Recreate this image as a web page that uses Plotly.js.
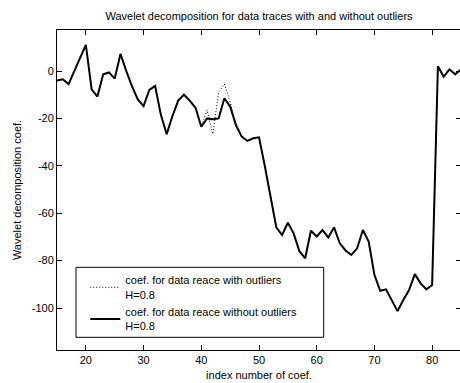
<!DOCTYPE html>
<html>
<head>
<meta charset="utf-8">
<script src="https://cdn.plot.ly/plotly-3.0.1.min.js"></script>
<style>
html, body { margin: 0; padding: 0; overflow: hidden; background: #fff; }
#chart { width: 461px; height: 383px; }
</style>
</head>
<body>
<div id="chart"></div>
<script>
// index of coefficients
const coefIndex = [15,16,17,18,19,20,21,22,23,24,25,26,27,28,29,30,31,32,33,34,35,36,37,38,39,40,
  41,42,43,44,45,46,47,48,49,50,51,52,53,54,55,56,57,58,59,60,61,62,63,64,65,66,67,68,69,70,
  71,72,73,74,75,76,77,78,79,80,81,82,83,84,85];

// coefficients for data trace without outliers
const coefWithout = [-4,-3.5,-5.5,0,5.5,11,-7.7,-10.8,-1.4,-0.6,-3.2,7.2,0,-6.5,-12,-14.8,-8,-6.3,-18.5,-26.7,
  -19,-12.5,-10,-12.5,-15.5,-23.5,-20,-20.4,-20,-11.5,-15,-22.8,-27.7,-29.5,-28.4,-28,-40,-53,-66,-69.2,
  -64,-68.5,-76,-79,-67.4,-69.8,-67.1,-70.2,-66,-72.7,-75.7,-77.6,-74.8,-67.1,-72,-86,
  -92.7,-92.1,-96.6,-101.3,-96.6,-92.4,-85.7,-89.6,-92.1,-90.3,2,-2.4,0.7,-1.4,0.7];

// coefficients for data trace with outliers
const coefWith = [-4,-3.5,-5.5,0,5.5,11,-7.7,-10.8,-1.4,-0.6,-3.2,7.2,0,-6.5,-12,-14.8,-8,-6.3,-18.5,-26.7,
  -19,-12.5,-10,-12.5,-15.5,-23.5,-16.5,-26.6,-9,-5.5,-13,-22.8,-27.7,-29.5,-28.4,-28,-40,-53,-66,-69.2,
  -64,-68.5,-76,-79,-67.4,-69.8,-67.1,-70.2,-66,-72.7,-75.7,-77.6,-74.8,-67.1,-72,-86,
  -92.7,-92.1,-96.6,-101.3,-96.6,-92.4,-85.7,-89.6,-92.1,-90.3,2,-2.4,0.7,-1.4,0.7];

const xTicks = [20,30,40,50,60,70,80];
const yTicks = [-100,-80,-60,-40,-20,0];
const seriesNames = ['coef. for data reace with outliers<br>H=0.8', 'coef. for data reace without outliers<br>H=0.8'];

const FONT = 'Arial, "Liberation Sans", sans-serif';

const traces = [
  {
    x: coefIndex, y: coefWith, type: 'scatter', mode: 'lines', name: seriesNames[0],
    line: {color: '#000', width: 1, dash: '1px,2px'}
  },
  {
    x: coefIndex, y: coefWithout, type: 'scatter', mode: 'lines', name: seriesNames[1],
    line: {color: '#000', width: 2}
  }
];

const axisCommon = {
  showline: true, linecolor: '#000', linewidth: 1, mirror: 'ticks',
  ticks: 'inside', ticklen: 5, tickcolor: '#000', tickwidth: 1,
  showgrid: false, zeroline: false,
  tickfont: {family: FONT, size: 11, color: '#000'}
};

const layout = {
  width: 461, height: 383,
  margin: {l: 57, r: 0, t: 30, b: 33},
  paper_bgcolor: '#fff', plot_bgcolor: '#fff',
  font: {family: FONT, size: 11, color: '#000'},
  title: {text: 'Wavelet decomposition for data traces with and without outliers',
    font: {family: FONT, size: 11, color: '#000'},
    x: 0.5, xref: 'paper', xanchor: 'center', y: 1 - 16/383, yref: 'container', yanchor: 'middle'},
  xaxis: Object.assign({}, axisCommon, {
    range: [15, 85], tickvals: xTicks, ticktext: xTicks.map(String),
    title: {text: 'index number of coef.', font: {family: FONT, size: 11, color: '#000'}, standoff: 6}
  }),
  yaxis: Object.assign({}, axisCommon, {
    range: [-117.7, 17.3], tickvals: yTicks, ticktext: yTicks.map(String),
    title: {text: 'Wavelet decomposition coef.', font: {family: FONT, size: 11, color: '#000'}, standoff: 7}
  }),
  showlegend: true,
  legend: {
    x: 0.07, y: 0.261, xanchor: 'left', yanchor: 'top',
    bgcolor: 'rgba(0,0,0,0)', borderwidth: 0,
    font: {family: FONT, size: 11, color: '#000'},
    tracegroupgap: 0, valign: 'middle'
  },
  shapes: [{
    type: 'rect', xref: 'paper', yref: 'paper',
    x0: (76-57)/404, x1: (323.7-57)/404, y0: (350-337.3)/320, y1: (350-267.3)/320,
    line: {color: '#000', width: 1}, fillcolor: '#fff', layer: 'above'
  }]
};

Plotly.newPlot('chart', traces, layout, {displayModeBar: false, staticPlot: true});
</script>
</body>
</html>
